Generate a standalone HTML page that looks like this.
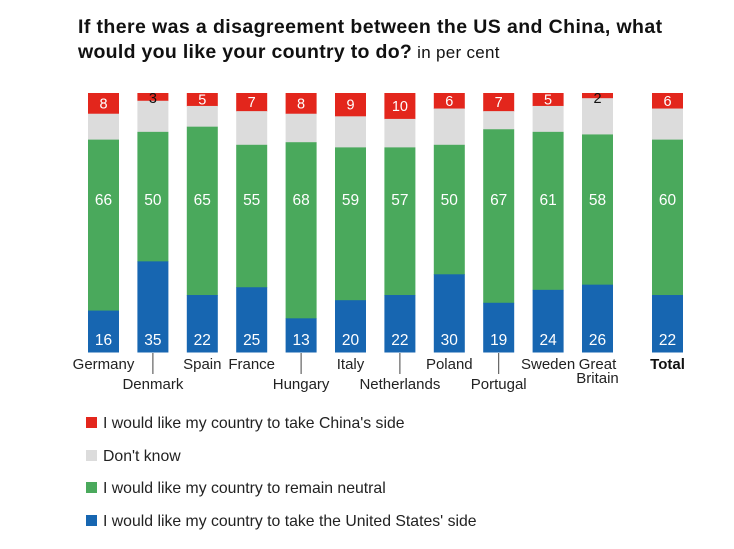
<!DOCTYPE html>
<html><head><meta charset="utf-8"><style>
body{margin:0;background:#fff;}
svg{display:block;font-family:"Liberation Sans",sans-serif;}
</style></head><body>
<svg width="734" height="549" viewBox="0 0 734 549">
<text x="78" y="33" font-size="19.5" font-weight="bold" fill="#111" letter-spacing="0.4">If there was a disagreement between the US and China, what</text>
<text x="78" y="58" font-size="19.5" fill="#111" letter-spacing="0.3"><tspan font-weight="bold">would you like your country to do?</tspan><tspan font-size="17"> in per cent</tspan></text>
<g id="bars"></g>
<g font-size="15.8" fill="#222">
<rect x="86" y="417" width="11" height="11" fill="#e3261c"/><text x="103" y="428">I would like my country to take China's side</text>
<rect x="86" y="450" width="11" height="11" fill="#dcdcdc"/><text x="103" y="461">Don't know</text>
<rect x="86" y="482" width="11" height="11" fill="#4aa95c"/><text x="103" y="493">I would like my country to remain neutral</text>
<rect x="86" y="515" width="11" height="11" fill="#1766b1"/><text x="103" y="526">I would like my country to take the United States' side</text>
</g>
</svg>
<script>
(function(){
var d=[["Germany",8,10,66,16,0],["Denmark",3,12,50,35,1],["Spain",5,8,65,22,0],["France",7,13,55,25,0],["Hungary",8,11,68,13,1],["Italy",9,12,59,20,0],["Netherlands",10,11,57,22,1],["Poland",6,14,50,30,0],["Portugal",7,7,67,19,1],["Sweden",5,10,61,24,0],["Great Britain",2,14,58,26,0],["Total",6,12,60,22,0]];
var s="",T0=93,H=259,w=31;
d.forEach(function(r,i){
 var x=i<11?88+i*49.4:652;var cx=x+w/2;var y=T0;
 var cols=["#e3261c","#dcdcdc","#4aa95c","#1766b1"];
 var segs=[];
 for(var k=0;k<4;k++){var h=r[k+1]/100*H;s+='<rect x="'+x+'" y="'+y+'" width="'+w+'" height="'+(h+0.5)+'" fill="'+cols[k]+'"/>';segs.push([y,h]);y+=h;}
 var ry=segs[0][0]+(r[1]<5?10:segs[0][1]/2+5);
 s+='<text x="'+cx+'" y="'+ry+'" text-anchor="middle" font-size="14.5" fill="'+(r[1]<5?"#111":"#fff")+'">'+r[1]+'</text>';
 s+='<text x="'+cx+'" y="205" text-anchor="middle" font-size="15.5" fill="#fff">'+r[3]+'</text>';
 s+='<text x="'+cx+'" y="345" text-anchor="middle" font-size="15.5" fill="#fff">'+r[4]+'</text>';
 var fs=15;
 if(r[0]=="Great Britain"){s+='<text x="'+cx+'" y="369" text-anchor="middle" font-size="'+fs+'" fill="#222">Great</text><text x="'+cx+'" y="383" text-anchor="middle" font-size="'+fs+'" fill="#222">Britain</text>';}
 else if(r[0]=="Total"){s+='<text x="'+cx+'" y="369" text-anchor="middle" font-size="'+fs+'" font-weight="bold" fill="#111">Total</text>';}
 else if(r[5]){s+='<line x1="'+cx+'" y1="353" x2="'+cx+'" y2="374" stroke="#444" stroke-width="1"/><text x="'+cx+'" y="389" text-anchor="middle" font-size="'+fs+'" fill="#222">'+r[0]+'</text>';}
 else{s+='<text x="'+cx+'" y="369" text-anchor="middle" font-size="'+fs+'" fill="#222">'+r[0]+'</text>';}
});
document.getElementById("bars").innerHTML=s;
})();
</script>
</body></html>
